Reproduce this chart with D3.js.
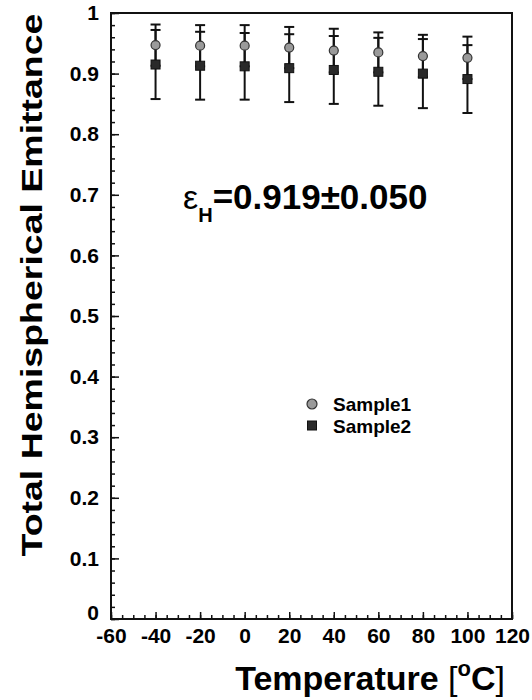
<!DOCTYPE html>
<html>
<head>
<meta charset="utf-8">
<script src="https://cdn.jsdelivr.net/npm/d3@7"></script>
<style>
  html, body { margin: 0; padding: 0; background: #fff; }
  svg { display: block; }
  text { font-family: "Liberation Sans", Arial, Helvetica, sans-serif; }
</style>
</head>
<body>
<svg id="chart" width="532" height="700"></svg>
<script>
// ---- data ----
const temperatures = [-40, -20, 0, 20, 40, 60, 80, 100];
const sample1 = [0.947, 0.946, 0.946, 0.943, 0.938, 0.935, 0.929, 0.926];
const sample1Err = [0.034, 0.034, 0.034, 0.034, 0.036, 0.033, 0.035, 0.035];
const sample2 = [0.915, 0.913, 0.912, 0.909, 0.906, 0.903, 0.900, 0.891];
const sample2Err = [0.057, 0.056, 0.055, 0.056, 0.056, 0.056, 0.057, 0.056];
const xTickValues = [-60, -40, -20, 0, 20, 40, 60, 80, 100, 120];
const yTickValues = [0, 0.1, 0.2, 0.3, 0.4, 0.5, 0.6, 0.7, 0.8, 0.9, 1];
const seriesNames = ["Sample1", "Sample2"];
const yTitle = "Total Hemispherical Emittance";
const annotationValue = "=0.919\u00B10.050";

// ---- layout ----
const svg = d3.select("#chart");
const x = d3.scaleLinear().domain([-60, 120]).range([111, 512]);
const y = d3.scaleLinear().domain([0, 1]).range([619, 13]);
const FONT = "'Liberation Sans', Arial, sans-serif";

// frame
svg.append("rect")
  .attr("x", x(-60)).attr("y", y(1))
  .attr("width", x(120) - x(-60)).attr("height", y(0) - y(1))
  .attr("fill", "none").attr("stroke", "#111").attr("stroke-width", 2);

// x minor ticks
const xMinor = d3.axisBottom(x).tickValues(d3.range(-60, 121, 5)).tickSize(-4).tickFormat("");
svg.append("g").attr("transform", `translate(0,${y(0)})`).call(xMinor)
  .call(g => g.select(".domain").remove())
  .call(g => g.selectAll("line").attr("stroke", "#111").attr("stroke-width", 1.5));
// x major ticks
const xMajor = d3.axisBottom(x).tickValues(xTickValues).tickSize(-7).tickPadding(9).tickFormat(d => String(d));
svg.append("g").attr("transform", `translate(0,${y(0)})`).call(xMajor)
  .call(g => g.select(".domain").remove())
  .call(g => g.selectAll("line").attr("stroke", "#111").attr("stroke-width", 1.5))
  .call(g => g.selectAll("text").attr("font-size", 21).attr("font-weight", "bold").attr("fill", "#000")
    .attr("font-family", FONT));

// y minor ticks
const yMinor = d3.axisLeft(y).tickValues(d3.range(0, 51).map(i => i * 0.02)).tickSize(-4).tickFormat("");
svg.append("g").attr("transform", `translate(${x(-60)},0)`).call(yMinor)
  .call(g => g.select(".domain").remove())
  .call(g => g.selectAll("line").attr("stroke", "#111").attr("stroke-width", 1.5));
// y major ticks
const yMajor = d3.axisLeft(y).tickValues(yTickValues).tickSize(-8).tickPadding(12).tickFormat(d => String(d));
svg.append("g").attr("transform", `translate(${x(-60)},0)`).call(yMajor)
  .call(g => g.select(".domain").remove())
  .call(g => g.selectAll("line").attr("stroke", "#111").attr("stroke-width", 1.5))
  .call(g => g.selectAll("text").attr("font-size", 21).attr("font-weight", "bold").attr("fill", "#000")
    .attr("font-family", FONT)
    .attr("dy", d => d === 0 ? "0.0em" : "0.32em"));

// error bars
function drawErrors(vals, errs, cls) {
  const data = temperatures.map((t, i) => ({ t, v: vals[i], e: errs[i] }));
  const g = svg.append("g").attr("class", cls).attr("stroke", "#111").attr("stroke-width", 2);
  g.selectAll("line.v").data(data).join("line").attr("class", "v")
    .attr("x1", d => x(d.t)).attr("x2", d => x(d.t))
    .attr("y1", d => y(d.v + d.e)).attr("y2", d => y(d.v - d.e));
  g.selectAll("line.top").data(data).join("line").attr("class", "top")
    .attr("x1", d => x(d.t) - 5).attr("x2", d => x(d.t) + 5)
    .attr("y1", d => y(d.v + d.e)).attr("y2", d => y(d.v + d.e));
  g.selectAll("line.bot").data(data).join("line").attr("class", "bot")
    .attr("x1", d => x(d.t) - 5).attr("x2", d => x(d.t) + 5)
    .attr("y1", d => y(d.v - d.e)).attr("y2", d => y(d.v - d.e));
}
drawErrors(sample2, sample2Err, "err2");
drawErrors(sample1, sample1Err, "err1");

// markers
svg.append("g").selectAll("rect").data(temperatures.map((t, i) => ({ t, v: sample2[i] })))
  .join("rect")
  .attr("x", d => x(d.t) - 4.5).attr("y", d => y(d.v) - 4.5)
  .attr("width", 9).attr("height", 9)
  .attr("fill", "#2a2a2a").attr("stroke", "#111").attr("stroke-width", 1);
svg.append("g").selectAll("circle").data(temperatures.map((t, i) => ({ t, v: sample1[i] })))
  .join("circle")
  .attr("cx", d => x(d.t)).attr("cy", d => y(d.v)).attr("r", 4.5)
  .attr("fill", "#9a9a9a").attr("stroke", "#333").attr("stroke-width", 1.2);

// annotation
const ann = svg.append("text").attr("x", 183).attr("y", 209).attr("fill", "#000");
ann.append("tspan").attr("font-size", 34).attr("font-weight", "normal").text("\u03B5");
ann.append("tspan").attr("font-size", 20).attr("font-weight", "bold").attr("dy", 13).text("H");
ann.append("tspan").attr("font-size", 35).attr("font-weight", "bold").attr("dy", -13).text(annotationValue);

// legend
const legend = svg.append("g");
legend.append("circle").attr("cx", 312).attr("cy", 404).attr("r", 5)
  .attr("fill", "#9a9a9a").attr("stroke", "#333").attr("stroke-width", 1.2);
legend.append("rect").attr("x", 307.5).attr("y", 421).attr("width", 9).attr("height", 9)
  .attr("fill", "#2a2a2a").attr("stroke", "#111");
legend.selectAll("text").data(seriesNames).join("text")
  .attr("x", 333).attr("y", (d, i) => 411 + i * 21.5)
  .attr("font-size", 19).attr("font-weight", "bold").attr("fill", "#000").text(d => d);

// axis titles
svg.append("text")
  .attr("transform", "translate(42,285) rotate(-90) scale(1.25,1)")
  .attr("text-anchor", "middle").attr("font-size", 30).attr("font-weight", "bold").attr("fill", "#000")
  .text(yTitle);

const xt = svg.append("text").attr("x", 505).attr("y", 690).attr("text-anchor", "end")
  .attr("font-size", 34).attr("font-weight", "bold").attr("fill", "#000");
xt.append("tspan").text("Temperature ");
xt.append("tspan").attr("font-weight", "normal").text("[");
xt.append("tspan").attr("font-size", 22).attr("dy", -14).text("o");
xt.append("tspan").attr("dy", 14).text("C");
xt.append("tspan").attr("font-weight", "normal").text("]");
</script>
</body>
</html>
